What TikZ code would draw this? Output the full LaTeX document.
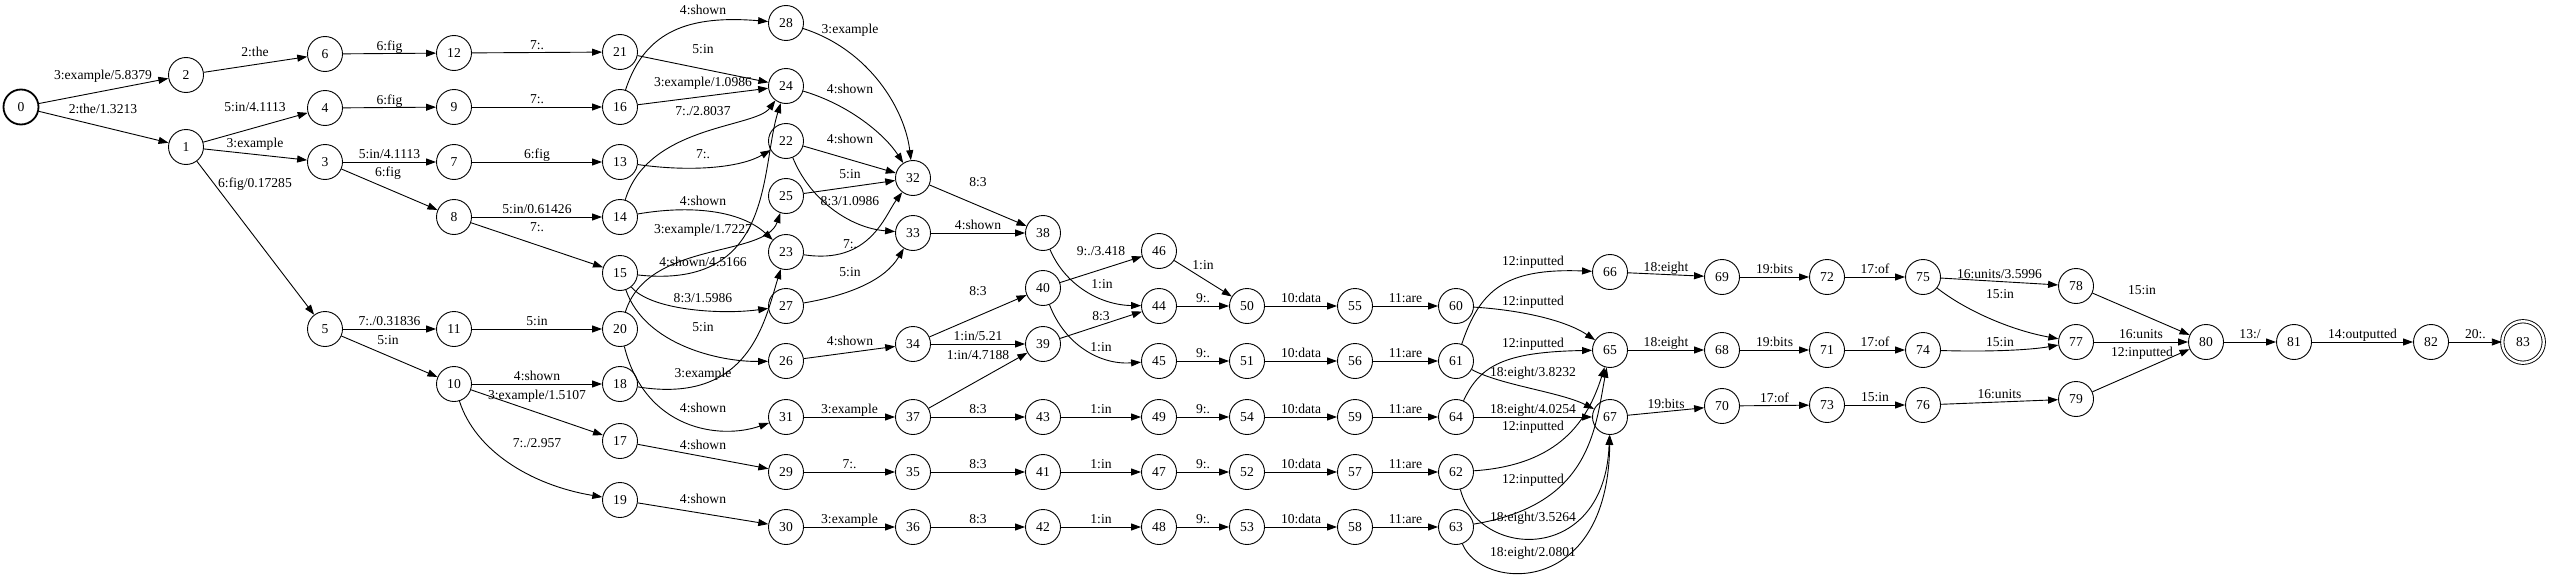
\documentclass[tikz,border=0pt]{standalone}
\usepackage{fontspec}
\setmainfont{Liberation Serif}
\usepackage{tikz}
\usetikzlibrary{arrows.meta}
\newcommand{\fstfont}{\fontsize{13.6pt}{16pt}\selectfont}
\tikzset{
  fststate/.style={circle, draw, line width=0.9pt, minimum size=35pt, inner sep=0pt, font=\fstfont},
  fststart/.style={fststate, line width=1.8pt},
  fstfinal/.style={fststate, minimum size=41.5pt, double, double distance=2.4pt},
  elab/.style={font=\fstfont, inner sep=0.5pt, text height=9.5pt, text depth=2.5pt},
}

\begin{document}
\begin{tikzpicture}[x=1pt, y=-1pt, line width=0.9pt, >={Stealth[inset=0pt,length=10pt,width=7pt]}]
\path[use as bounding box, fill=white] (0,0) rectangle (2550,578);

% States
\node[fststart] (s0) at (21,107) {0};
\node[fststate] (s1) at (186,147) {1};
\node[fststate] (s2) at (186,75) {2};
\node[fststate] (s3) at (325,162) {3};
\node[fststate] (s4) at (325,108) {4};
\node[fststate] (s5) at (325,329) {5};
\node[fststate] (s6) at (325,54) {6};
\node[fststate] (s7) at (454,162) {7};
\node[fststate] (s8) at (454,217) {8};
\node[fststate] (s9) at (454,107) {9};
\node[fststate] (s10) at (454,384) {10};
\node[fststate] (s11) at (454,329) {11};
\node[fststate] (s12) at (454,53) {12};
\node[fststate] (s13) at (620,162) {13};
\node[fststate] (s14) at (620,217) {14};
\node[fststate] (s15) at (620,273) {15};
\node[fststate] (s16) at (620,107) {16};
\node[fststate] (s17) at (620,441) {17};
\node[fststate] (s18) at (620,384) {18};
\node[fststate] (s19) at (620,500) {19};
\node[fststate] (s20) at (620,329) {20};
\node[fststate] (s21) at (620,52) {21};
\node[fststate] (s22) at (786,141) {22};
\node[fststate] (s23) at (786,252) {23};
\node[fststate] (s24) at (786,86) {24};
\node[fststate] (s25) at (786,196) {25};
\node[fststate] (s26) at (786,361) {26};
\node[fststate] (s27) at (786,306) {27};
\node[fststate] (s28) at (786,23) {28};
\node[fststate] (s29) at (786,472) {29};
\node[fststate] (s30) at (786,527) {30};
\node[fststate] (s31) at (786,417) {31};
\node[fststate] (s32) at (913,178) {32};
\node[fststate] (s33) at (913,233) {33};
\node[fststate] (s34) at (913,344) {34};
\node[fststate] (s35) at (913,472) {35};
\node[fststate] (s36) at (913,527) {36};
\node[fststate] (s37) at (913,417) {37};
\node[fststate] (s38) at (1043,233) {38};
\node[fststate] (s39) at (1043,344) {39};
\node[fststate] (s40) at (1043,288) {40};
\node[fststate] (s41) at (1043,472) {41};
\node[fststate] (s42) at (1043,527) {42};
\node[fststate] (s43) at (1043,417) {43};
\node[fststate] (s44) at (1159,306) {44};
\node[fststate] (s45) at (1159,361) {45};
\node[fststate] (s46) at (1159,251) {46};
\node[fststate] (s47) at (1159,472) {47};
\node[fststate] (s48) at (1159,527) {48};
\node[fststate] (s49) at (1159,417) {49};
\node[fststate] (s50) at (1247,306) {50};
\node[fststate] (s51) at (1247,361) {51};
\node[fststate] (s52) at (1247,472) {52};
\node[fststate] (s53) at (1247,527) {53};
\node[fststate] (s54) at (1247,417) {54};
\node[fststate] (s55) at (1355,306) {55};
\node[fststate] (s56) at (1355,361) {56};
\node[fststate] (s57) at (1355,472) {57};
\node[fststate] (s58) at (1355,527) {58};
\node[fststate] (s59) at (1355,417) {59};
\node[fststate] (s60) at (1456,306) {60};
\node[fststate] (s61) at (1456,361) {61};
\node[fststate] (s62) at (1456,472) {62};
\node[fststate] (s63) at (1456,527) {63};
\node[fststate] (s64) at (1456,417) {64};
\node[fststate] (s65) at (1610,350) {65};
\node[fststate] (s66) at (1610,272) {66};
\node[fststate] (s67) at (1610,417) {67};
\node[fststate] (s68) at (1722,350) {68};
\node[fststate] (s69) at (1722,277) {69};
\node[fststate] (s70) at (1722,406) {70};
\node[fststate] (s71) at (1827,350) {71};
\node[fststate] (s72) at (1827,277) {72};
\node[fststate] (s73) at (1827,405) {73};
\node[fststate] (s74) at (1923,350) {74};
\node[fststate] (s75) at (1923,277) {75};
\node[fststate] (s76) at (1923,405) {76};
\node[fststate] (s77) at (2076,342) {77};
\node[fststate] (s78) at (2076,286) {78};
\node[fststate] (s79) at (2076,399) {79};
\node[fststate] (s80) at (2206,342) {80};
\node[fststate] (s81) at (2294,342) {81};
\node[fststate] (s82) at (2431,342) {82};
\node[fstfinal] (s83) at (2523,342) {83};

% Start of the lattice
\draw[->] (s0) -- (s2) node[elab] at (103,76) {3:example/5.8379};
\draw[->] (s0) -- (s1) node[elab] at (103,110) {2:the/1.3213};
\draw[->] (s2) -- (s6) node[elab] at (255,53) {2:the};
\draw[->] (s1) -- (s4) node[elab] at (255,108) {5:in/4.1113};
\draw[->] (s1) -- (s3) node[elab] at (255,144) {3:example};
\draw[->] (s1) -- (s5) node[elab] at (255,184) {6:fig/0.17285};
\draw[->] (s6) -- (s12) node[elab,midway,above] {6:fig};
\draw[->] (s4) -- (s9) node[elab,midway,above] {6:fig};
\draw[->] (s3) -- (s7) node[elab,midway,above] {5:in/4.1113};
\draw[->] (s3) -- (s8) node[elab] at (388,173) {6:fig};
\draw[->] (s5) -- (s11) node[elab,midway,above] {7:./0.31836};
\draw[->] (s5) -- (s10) node[elab] at (388,341) {5:in};

\draw[->] (s12) -- (s21) node[elab,midway,above] {7:.};
\draw[->] (s9) -- (s16) node[elab,midway,above] {7:.};
\draw[->] (s7) -- (s13) node[elab,midway,above] {6:fig};
\draw[->] (s8) -- (s14) node[elab,midway,above] {5:in/0.61426};
\draw[->] (s8) -- (s15) node[elab] at (537,228) {7:.};
\draw[->] (s11) -- (s20) node[elab,midway,above] {5:in};
\draw[->] (s10) -- (s18) node[elab,midway,above] {4:shown};
\draw[->] (s10) -- (s17) node[elab] at (537,396) {3:example/1.5107};
\draw[->] (s10) .. controls (475,450) and (530,485) .. (s19) node[elab] at (537,444) {7:./2.957};

% Crossing edges in the middle
\draw[->] (s16) .. controls (645,30) and (690,15) .. (s28) node[elab] at (703,11) {4:shown};
\draw[->] (s21) -- (s24) node[elab] at (703,50) {5:in};
\draw[->] (s16) -- (s24) node[elab] at (703,83) {3:example/1.0986};
\draw[->] (s14) .. controls (648,125) and (755,128) .. (s24) node[elab] at (703,112) {7:./2.8037};
\draw[->] (s13) .. controls (690,172) and (740,168) .. (s22) node[elab] at (703,155) {7:.};
\draw[->] (s14) .. controls (690,205) and (740,210) .. (s23) node[elab] at (703,202) {4:shown};
\draw[->] (s20) .. controls (648,240) and (765,258) .. (s25) node[elab] at (703,230) {3:example/1.7227};
\draw[->] (s15) .. controls (775,290) and (760,170) .. (s24) node[elab] at (703,263) {4:shown/4.5166};
\draw[->] (s15) .. controls (650,310) and (720,315) .. (s27) node[elab] at (703,299) {8:3/1.5986};
\draw[->] (s15) .. controls (645,345) and (720,362) .. (s26) node[elab] at (703,328) {5:in};
\draw[->] (s18) .. controls (750,405) and (765,320) .. (s23) node[elab] at (703,374) {3:example};
\draw[->] (s20) .. controls (645,430) and (720,440) .. (s31) node[elab] at (703,409) {4:shown};
\draw[->] (s17) -- (s29) node[elab] at (703,446) {4:shown};
\draw[->] (s19) -- (s30) node[elab] at (703,500) {4:shown};

\draw[->] (s28) .. controls (870,50) and (905,110) .. (s32) node[elab] at (850,30) {3:example};
\draw[->] (s24) .. controls (850,105) and (885,135) .. (s32) node[elab] at (850,90) {4:shown};
\draw[->] (s22) -- (s32) node[elab] at (850,140) {4:shown};
\draw[->] (s25) -- (s32) node[elab] at (850,175) {5:in};
\draw[->] (s22) .. controls (810,200) and (850,228) .. (s33) node[elab] at (850,202) {8:3/1.0986};
\draw[->] (s23) .. controls (870,265) and (885,215) .. (s32) node[elab] at (850,245) {7:.};
\draw[->] (s27) .. controls (850,295) and (885,280) .. (s33) node[elab] at (850,273) {5:in};
\draw[->] (s26) -- (s34) node[elab] at (850,342) {4:shown};
\draw[->] (s31) -- (s37) node[elab,midway,above] {3:example};
\draw[->] (s29) -- (s35) node[elab,midway,above] {7:.};
\draw[->] (s30) -- (s36) node[elab,midway,above] {3:example};

\draw[->] (s32) -- (s38) node[elab] at (978,183) {8:3};
\draw[->] (s33) -- (s38) node[elab,midway,above] {4:shown};
\draw[->] (s34) -- (s40) node[elab] at (978,292) {8:3};
\draw[->] (s34) -- (s39) node[elab,midway,above] {1:in/5.21};
\draw[->] (s37) -- (s39) node[elab] at (978,356) {1:in/4.7188};
\draw[->] (s37) -- (s43) node[elab,midway,above] {8:3};
\draw[->] (s35) -- (s41) node[elab,midway,above] {8:3};
\draw[->] (s36) -- (s42) node[elab,midway,above] {8:3};

\draw[->] (s40) -- (s46) node[elab] at (1101,252) {9:./3.418};
\draw[->] (s38) .. controls (1065,285) and (1100,305) .. (s44) node[elab] at (1102,285) {1:in};
\draw[->] (s39) -- (s44) node[elab] at (1101,317) {8:3};
\draw[->] (s40) .. controls (1065,345) and (1100,365) .. (s45) node[elab] at (1101,348) {1:in};
\draw[->] (s43) -- (s49) node[elab,midway,above] {1:in};
\draw[->] (s41) -- (s47) node[elab,midway,above] {1:in};
\draw[->] (s42) -- (s48) node[elab,midway,above] {1:in};

\draw[->] (s46) -- (s50) node[elab] at (1203,266) {1:in};
\draw[->] (s44) -- (s50) node[elab,midway,above] {9:.};
\draw[->] (s45) -- (s51) node[elab,midway,above] {9:.};
\draw[->] (s49) -- (s54) node[elab,midway,above] {9:.};
\draw[->] (s47) -- (s52) node[elab,midway,above] {9:.};
\draw[->] (s48) -- (s53) node[elab,midway,above] {9:.};

\draw[->] (s50) -- (s55) node[elab,midway,above] {10:data};
\draw[->] (s51) -- (s56) node[elab,midway,above] {10:data};
\draw[->] (s54) -- (s59) node[elab,midway,above] {10:data};
\draw[->] (s52) -- (s57) node[elab,midway,above] {10:data};
\draw[->] (s53) -- (s58) node[elab,midway,above] {10:data};
\draw[->] (s55) -- (s60) node[elab,midway,above] {11:are};
\draw[->] (s56) -- (s61) node[elab,midway,above] {11:are};
\draw[->] (s59) -- (s64) node[elab,midway,above] {11:are};
\draw[->] (s57) -- (s62) node[elab,midway,above] {11:are};
\draw[->] (s58) -- (s63) node[elab,midway,above] {11:are};

% Merging into 65, 66, 67
\draw[->] (s61) .. controls (1480,290) and (1505,268) .. (s66) node[elab] at (1533,262) {12:inputted};
\draw[->] (s60) .. controls (1520,310) and (1565,320) .. (s65) node[elab] at (1533,302) {12:inputted};
\draw[->] (s64) .. controls (1480,365) and (1505,352) .. (s65) node[elab] at (1533,344) {12:inputted};
\draw[->] (s61) .. controls (1500,385) and (1560,392) .. (s67) node[elab] at (1533,373) {18:eight/3.8232};
\draw[->] (s64) -- (s67) node[elab,midway,above] {18:eight/4.0254};
\draw[->] (s62) .. controls (1560,465) and (1588,420) .. (s65) node[elab] at (1533,427) {12:inputted};
\draw[->] (s63) .. controls (1590,505) and (1595,430) .. (s65) node[elab] at (1533,480) {12:inputted};
\draw[->] (s62) .. controls (1478,560) and (1605,565) .. (s67) node[elab] at (1533,518) {18:eight/3.5264};
\draw[->] (s63) .. controls (1480,590) and (1608,600) .. (s67) node[elab] at (1533,553) {18:eight/2.0801};

\draw[->] (s66) -- (s69) node[elab,midway,above] {18:eight};
\draw[->] (s65) -- (s68) node[elab,midway,above] {18:eight};
\draw[->] (s67) -- (s70) node[elab,midway,above] {19:bits};
\draw[->] (s69) -- (s72) node[elab,midway,above] {19:bits};
\draw[->] (s68) -- (s71) node[elab,midway,above] {19:bits};
\draw[->] (s70) -- (s73) node[elab,midway,above] {17:of};
\draw[->] (s72) -- (s75) node[elab,midway,above] {17:of};
\draw[->] (s71) -- (s74) node[elab,midway,above] {17:of};
\draw[->] (s73) -- (s76) node[elab,midway,above] {15:in};
\draw[->] (s75) -- (s78) node[elab,midway,above] {16:units/3.5996};
\draw[->] (s75) .. controls (1965,310) and (2010,330) .. (s77) node[elab] at (2000,295) {15:in};
\draw[->] (s74) .. controls (1990,352) and (2030,350) .. (s77) node[elab] at (2000,343) {15:in};
\draw[->] (s76) -- (s79) node[elab,midway,above] {16:units};

% Final chain
\draw[->] (s78) -- (s80) node[elab] at (2142,291) {15:in};
\draw[->] (s77) -- (s80) node[elab,midway,above] {16:units};
\draw[->] (s79) -- (s80) node[elab] at (2142,353) {12:inputted};
\draw[->] (s80) -- (s81) node[elab,midway,above] {13:/};
\draw[->] (s81) -- (s82) node[elab,midway,above] {14:outputted};
\draw[->] (s82) -- (s83) node[elab,midway,above] {20:.};
\end{tikzpicture}
\end{document}
